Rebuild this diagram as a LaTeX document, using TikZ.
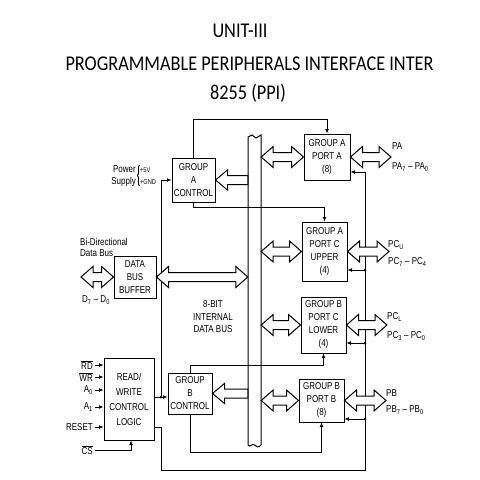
\documentclass[tikz,border=0pt]{standalone}
\usepackage{fontspec}
\newfontfamily\titlefont[FakeStretch=0.87]{Carlito}
\newfontfamily\diagfont[FakeStretch=0.8]{Liberation Sans}
\usetikzlibrary{calc,arrows.meta,decorations.pathreplacing}

\tikzset{
  blk/.style={draw, line width=1pt, align=center, inner sep=0pt, font=\diagfont\fontsize{10}{13}\selectfont},
  lbl/.style={inner sep=0pt, font=\diagfont\fontsize{10}{11}\selectfont},
  ttl/.style={inner sep=0pt, anchor=base, font=\titlefont\fontsize{21}{24}\selectfont},
  wire/.style={line width=0.9pt},
  dot/.style={circle, fill, inner sep=0pt, minimum size=3pt},
  >={Latex[length=4.5pt,width=4pt]}
}

\newcommand{\dblarrow}[2]{%
  \draw[line width=1pt, fill=white] let \p1=(#1), \p2=(#2) in
    (\x1,\y1) -- (\x1+12pt,\y1+10.5pt) -- (\x1+12pt,\y1+4.5pt) -- (\x2-12pt,\y1+4.5pt)
    -- (\x2-12pt,\y1+10.5pt) -- (\x2,\y1) -- (\x2-12pt,\y1-10.5pt) -- (\x2-12pt,\y1-4.5pt)
    -- (\x1+12pt,\y1-4.5pt) -- (\x1+12pt,\y1-10.5pt) -- cycle;}
\newcommand{\ctlarrow}[2]{%
  \draw[line width=1pt, fill=white] let \p1=(#1), \p2=(#2) in
    (\x1,\y1) -- (\x1+12pt,\y1+10pt) -- (\x1+12pt,\y1+4.5pt) -- (\x2,\y1+4.5pt)
    -- (\x2,\y1-4.5pt) -- (\x1+12pt,\y1-4.5pt) -- (\x1+12pt,\y1-10pt) -- cycle;}

\begin{document}
\begin{tikzpicture}[x=1pt,y=-1pt]
    \fill[white] (0,0) rectangle (480,480);
    \useasboundingbox (0,0) rectangle (480,480);

    \node[ttl] (ttl1) at (240,37) {UNIT-III};
    \node[ttl] (ttl2) at (249.5,70) {PROGRAMMABLE PERIPHERALS INTERFACE INTER};
    \node[ttl] (ttl3) at (248,99) {8255 (PPI)};

    \node[inner sep=0pt, minimum width=13pt, minimum height=308pt] (bus) at (254.5,291) {};
    \draw[line width=1pt] (248,445) -- (248,137) -- (252,135) -- (256,138) -- (261,135) -- (261,445)
        .. controls (259,448) and (256,447) .. (254.5,445) .. controls (252,443) and (250,448) .. (248,445);

    \node[blk, minimum width=43pt, minimum height=44pt] (gac) at (193.5,180) {GROUP\\A\\CONTROL};
    \node[blk, minimum width=44pt, minimum height=41pt] (gbc) at (190,393.5) {GROUP\\B\\CONTROL};
    \node[blk, minimum width=42pt, minimum height=42pt] (dbb) at (135,277) {DATA\\BUS\\BUFFER};
    \node[blk, minimum width=50pt, minimum height=82pt, font=\diagfont\fontsize{10}{15}\selectfont] (rw) at (129,399) {READ/\\WRITE\\CONTROL\\LOGIC};
    \node[blk, minimum width=46pt, minimum height=46pt] (pa) at (327,157) {GROUP A\\PORT A\\(8)};
    \node[blk, minimum width=45pt, minimum height=59pt] (pcu) at (324.5,251.5) {GROUP A\\PORT C\\UPPER\\(4)};
    \node[blk, minimum width=45pt, minimum height=56pt] (pcl) at (323.5,325) {GROUP B\\PORT C\\LOWER\\(4)};
    \node[blk, minimum width=45pt, minimum height=43pt] (pb) at (321.5,400.5) {GROUP B\\PORT B\\(8)};

    \draw[wire,->] (gac.north) -- ++(0,-38) -| (pa.north);
    \draw[wire,->] (gac.south) -- ++(0,5) -| (pcu.north);
    \draw[wire,->] (gbc.north) -- ++(0,-7) -| (pcl.south);
    \draw[wire,->] (gbc.south) -- ++(0,38) -| (pb.south);

    \coordinate (pwr) at (161,180);
    \coordinate (rj) at (161,397);
    \coordinate (rst) at (161,427);
    \coordinate (rb) at (365,470);
    \coordinate (rt) at (365,172);
    \coordinate (cu) at (365,270);
    \coordinate (cl) at (365,343);
    \coordinate (cb) at (365,419);
    \draw[wire,->] (pwr) -- (gac.west);
    \draw[wire] (rw.east |- rj) -- (rj) -- (pwr);
    \draw[wire,->] (rj) -- (gbc.west |- rj);
    \node[dot] (rjdot) at (rj) {};
    \draw[wire] (rw.east |- rst) -- (rst) |- (rb) -- (rt);
    \draw[wire,->] (rt) -- (pa.east |- rt);
    \draw[wire,->] (cu) -- (pcu.east |- cu);
    \draw[wire,->] (cl) -- (pcl.east |- cl);
    \draw[wire,->] (cb) -- (pb.east |- cb);
    \node[dot] (cudot) at (cu) {};
    \node[dot] (cldot) at (cl) {};
    \node[dot] (cbdot) at (cb) {};

    \node[lbl, align=right, anchor=east, font=\diagfont\fontsize{10}{12}\selectfont] (pwrlbl) at (136,176) {Power\\Supply};
    \draw[wire, decorate, decoration={brace, amplitude=2pt}] (139.5,186) -- (139.5,165);
    \node[lbl, anchor=west, font=\diagfont\fontsize{7}{8}\selectfont] (v5) at (140,170) {+5V};
    \node[lbl, anchor=west, font=\diagfont\fontsize{7}{8}\selectfont] (gnd) at (140,182) {+GND};

    \node[lbl, anchor=west] (bidir) at (80,242) {Bi-Directional};
    \node[lbl, anchor=west] (dbus) at (80,253) {Data Bus};
    \node[lbl, anchor=west] (dlines) at (82,300) {D\textsubscript{7} – D\textsubscript{0}};
    \coordinate (dbin) at (81,277);
    \dblarrow{dbin}{dbb.west}
    \dblarrow{dbb.east}{bus.west}
    \node[lbl, align=center, font=\diagfont\fontsize{10}{12.5}\selectfont] (buslbl) at (213,317) {8-BIT\\INTERNAL\\DATA BUS};

    \ctlarrow{gac.east}{bus.west}
    \ctlarrow{gbc.east}{bus.west}
    \dblarrow{bus.east |- pa.west}{pa.west}
    \dblarrow{bus.east |- pcu.west}{pcu.west}
    \dblarrow{bus.east |- pcl.west}{pcl.west}
    \dblarrow{bus.east |- pb.west}{pb.west}

    \coordinate (paout) at (391,157);
    \coordinate (pcuout) at (389,253);
    \coordinate (pclout) at (387,327);
    \coordinate (pbout) at (386,402);
    \dblarrow{pa.east}{paout}
    \dblarrow{pcu.east}{pcuout}
    \dblarrow{pcl.east}{pclout}
    \dblarrow{pb.east}{pbout}
    \node[lbl, anchor=west] (pal) at (392,146) {PA};
    \node[lbl, anchor=west] (pan) at (392,167) {PA\textsubscript{7} – PA\textsubscript{0}};
    \node[lbl, anchor=west] (pcul) at (388,245) {PC\textsubscript{U}};
    \node[lbl, anchor=west] (pcun) at (388,262) {PC\textsubscript{7} – PC\textsubscript{4}};
    \node[lbl, anchor=west] (pcll) at (387,317) {PC\textsubscript{L}};
    \node[lbl, anchor=west] (pcln) at (387,336) {PC\textsubscript{3} – PC\textsubscript{0}};
    \node[lbl, anchor=west] (pbl) at (386,393) {PB};
    \node[lbl, anchor=west] (pbn) at (386,410) {PB\textsubscript{7} – PB\textsubscript{0}};

    \node[lbl, anchor=east] (rd) at (93,365) {$\overline{\mbox{RD}}$};
    \node[lbl, anchor=east] (wr) at (93,377) {$\overline{\mbox{WR}}$};
    \node[lbl, anchor=east] (a0) at (93,390) {A\textsubscript{0}};
    \node[lbl, anchor=east] (a1) at (93,407) {A\textsubscript{1}};
    \node[lbl, anchor=east] (reset) at (93,427) {RESET};
    \node[lbl, anchor=east] (cs) at (93,450) {$\overline{\mbox{CS}}$};
    \draw[wire,->] ([xshift=2pt]rd.east) -- (rw.west |- rd.east);
    \draw[wire,->] ([xshift=2pt]wr.east) -- (rw.west |- wr.east);
    \draw[wire,->] ([xshift=2pt]a0.east) -- (rw.west |- a0.east);
    \draw[wire,->] ([xshift=2pt]a1.east) -- (rw.west |- a1.east);
    \draw[wire,->] ([xshift=2pt]reset.east) -- (rw.west |- reset.east);
    \draw[wire,->] ([xshift=2pt]cs.east) -| ([xshift=2pt]rw.south);
\end{tikzpicture}
\end{document}
